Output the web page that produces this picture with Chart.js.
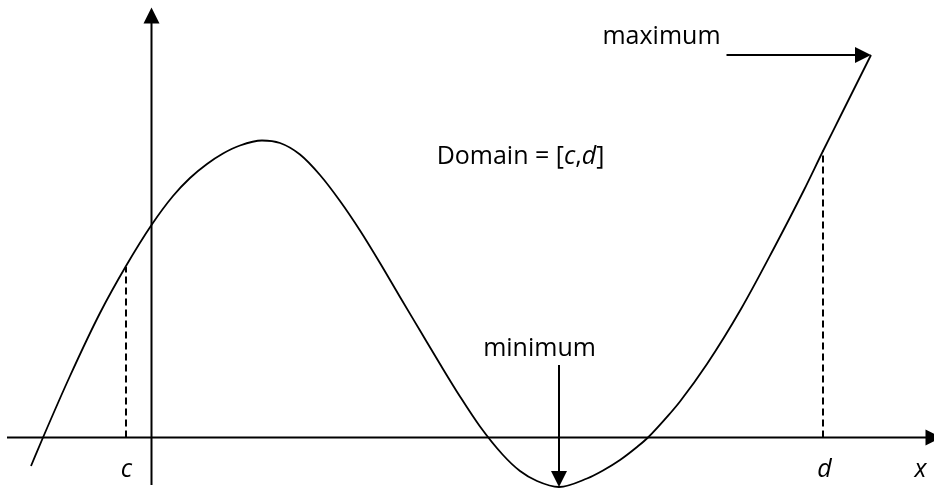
<!DOCTYPE html>
<html>
<head>
<meta charset="utf-8">
<script src="https://cdn.jsdelivr.net/npm/chart.js@4"></script>
<style>
  body { margin: 0; background: #fff; }
  #wrap { width: 934px; height: 489px; }
</style>
</head>
<body>
<div id="wrap"><canvas id="graph"></canvas></div>
<script>
// curve (origin of the axes = 0,0)
const curveX = [-2.41, -2.17, -1.63, -1.03, -0.51, 0, 0.43, 0.77, 1.11, 1.43, 1.77, 2.21, 2.57, 2.97, 3.37, 3.77, 4.17, 4.57, 4.97, 5.37, 5.77, 6.17, 6.57, 7.03, 7.37, 7.71, 8.15, 8.71, 9.03, 9.37, 9.71, 9.93, 10.37, 10.57, 11.11, 11.79, 12.43, 13.05, 13.43, 13.77, 14.11, 14.39];
const curveY = [-0.57, 0, 1.23, 2.49, 3.43, 4.25, 4.83, 5.19, 5.47, 5.68, 5.84, 5.94, 5.89, 5.66, 5.25, 4.73, 4.14, 3.49, 2.81, 2.14, 1.47, 0.82, 0.22, -0.35, -0.67, -0.87, -0.99, -0.82, -0.66, -0.45, -0.19, 0, 0.48, 0.72, 1.47, 2.57, 3.75, 4.95, 5.73, 6.41, 7.09, 7.65];

// domain ends and their heights on the curve
const domainX = [-0.51, 13.43];
const domainY = [3.41, 5.74];
const tickLabels = ["c", "d", "x"];
const tickX = [-0.50, 13.46, 15.38];

// extreme points
const maxPoint = [14.39, 7.65];
const minPoint = [8.15, -0.99];

const FONT = "'Open Sans', sans-serif";

const axesPlugin = {
  id: "axes",
  afterDatasetsDraw(chart) {
    const ctx = chart.ctx;
    const xs = chart.scales.x, ys = chart.scales.y;
    const px = v => xs.getPixelForValue(v);
    const py = v => ys.getPixelForValue(v);

    ctx.save();
    ctx.strokeStyle = "#000";
    ctx.fillStyle = "#000";
    ctx.lineWidth = 2;

    // axes
    ctx.beginPath();
    ctx.moveTo(px(-2.89), py(0));
    ctx.lineTo(px(15.52), py(0));
    ctx.moveTo(px(0), py(-0.95));
    ctx.lineTo(px(0), py(8.30));
    ctx.stroke();
    head(ctx, px(15.8), py(0), "right");
    head(ctx, px(0), py(8.60), "up");

    // maximum arrow
    ctx.beginPath();
    ctx.moveTo(px(11.5), py(maxPoint[1]));
    ctx.lineTo(px(maxPoint[0]) - 14, py(maxPoint[1]));
    ctx.stroke();
    head(ctx, px(maxPoint[0]), py(maxPoint[1]), "right");

    // minimum arrow
    ctx.beginPath();
    ctx.moveTo(px(minPoint[0]), py(1.45));
    ctx.lineTo(px(minPoint[0]), py(minPoint[1]) - 14);
    ctx.stroke();
    head(ctx, px(minPoint[0]), py(minPoint[1]), "down");

    // text
    ctx.textBaseline = "alphabetic";
    ctx.textAlign = "center";
    ctx.font = "25px " + FONT;
    ctx.fillText("maximum", px(10.2), py(7.88));
    ctx.fillText("minimum", px(7.76), py(1.64));

    ctx.font = "italic 25px " + FONT;
    tickLabels.forEach((t, i) => ctx.fillText(t, px(tickX[i]), py(-0.78)));

    // Domain = [c,d]
    const parts = [["Domain = [", false], ["c", true], [",", false], ["d", true], ["]", false]];
    let total = 0;
    parts.forEach(p => {
      ctx.font = (p[1] ? "italic " : "") + "25px " + FONT;
      total += ctx.measureText(p[0]).width;
    });
    let x = px(7.38) - total / 2;
    ctx.textAlign = "left";
    parts.forEach(p => {
      ctx.font = (p[1] ? "italic " : "") + "25px " + FONT;
      ctx.fillText(p[0], x, py(5.48));
      x += ctx.measureText(p[0]).width;
    });
    ctx.restore();
  }
};

function head(ctx, x, y, dir) {
  const l = 16, w = 8;
  ctx.beginPath();
  if (dir === "right") {
    ctx.moveTo(x, y); ctx.lineTo(x - l, y - w); ctx.lineTo(x - l, y + w);
  } else if (dir === "up") {
    ctx.moveTo(x, y); ctx.lineTo(x - w, y + l); ctx.lineTo(x + w, y + l);
  } else {
    ctx.moveTo(x, y); ctx.lineTo(x - w, y - l); ctx.lineTo(x + w, y - l);
  }
  ctx.closePath();
  ctx.fill();
}

const dashed = (i) => ({
  data: [{ x: domainX[i], y: 0 }, { x: domainX[i], y: domainY[i] }],
  borderColor: "#000",
  borderWidth: 2,
  borderDash: [7, 4],
  pointRadius: 0,
  showLine: true
});

new Chart(document.getElementById("graph"), {
  type: "scatter",
  data: {
    datasets: [
      {
        data: curveX.map((x, i) => ({ x: x, y: curveY[i] })),
        borderColor: "#000",
        borderWidth: 1.8,
        pointRadius: 0,
        showLine: true,
        cubicInterpolationMode: "monotone",
        clip: false
      },
      dashed(0),
      dashed(1)
    ]
  },
  options: {
    responsive: true,
    maintainAspectRatio: false,
    animation: false,
    layout: { padding: 0 },
    plugins: { legend: { display: false }, tooltip: { enabled: false } },
    scales: {
      x: { type: "linear", min: -3.03, max: 15.65, display: false },
      y: { type: "linear", min: -1.03, max: 8.75, display: false }
    }
  },
  plugins: [axesPlugin]
});
</script>
</body>
</html>
